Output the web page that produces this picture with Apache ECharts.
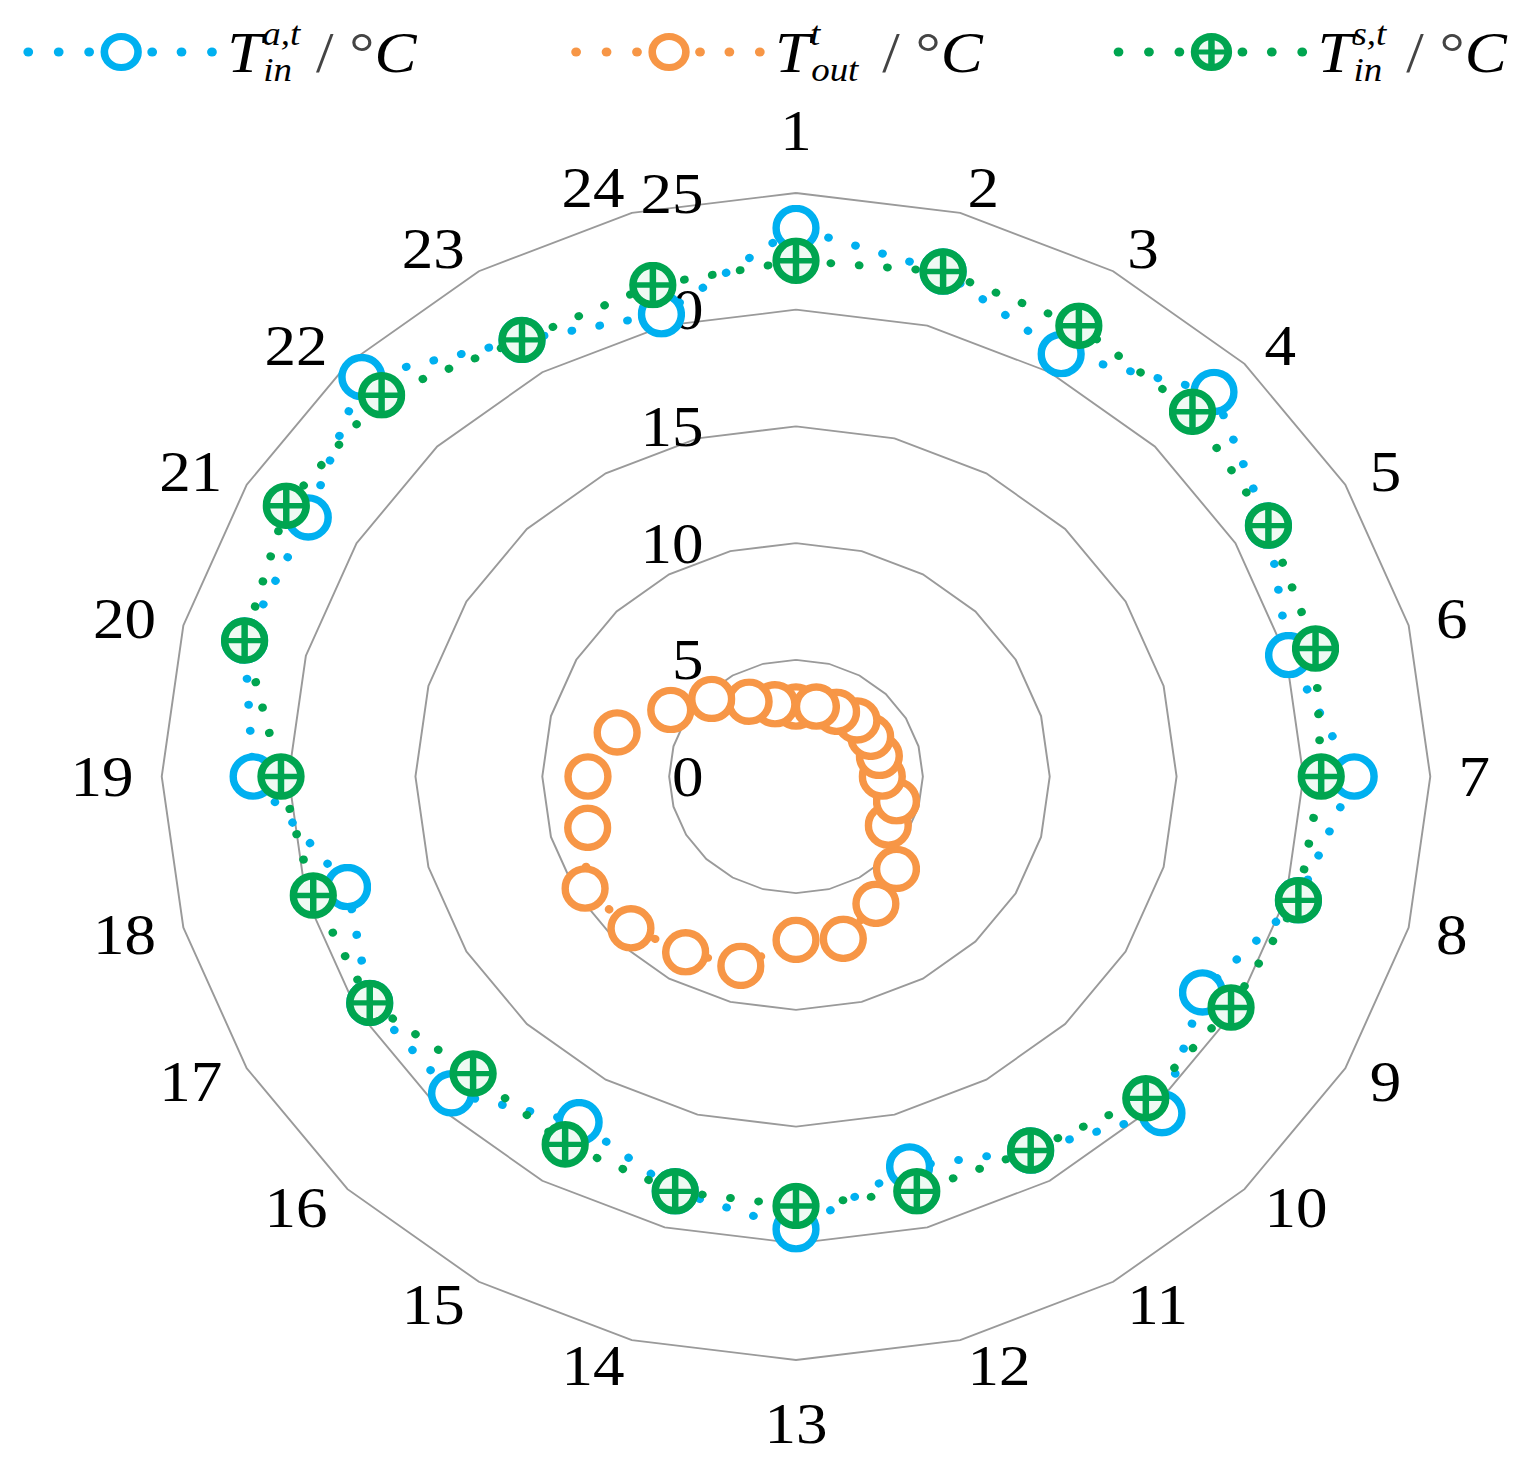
<!DOCTYPE html>
<html lang="en">

<head>
  <meta charset="UTF-8">
  <title>Radar</title>
  <style>
    html, body { margin: 0; padding: 0; background: #fff; }
    /* the reference is stretched horizontally, so the chart is drawn narrow and widened */
    #main { width: 1392px; height: 1472px; transform: scaleX(1.087); transform-origin: 0 0; }
  </style>
</head>

<body>
  <div id="main"></div>

  <script src="https://cdn.jsdelivr.net/npm/echarts@6/dist/echarts.min.js"></script>

  <script>
    // ====== data ======
    var hours = ['1', '2', '3', '4', '5', '6', '7', '8', '9', '10', '11', '12',
      '13', '14', '15', '16', '17', '18', '19', '20', '21', '22', '23', '24'];
    var radialTicks = [0, 5, 10, 15, 20, 25];

    var tInA = [23.5, 22.4, 20.9, 23.3, 21.5, 20.1, 22.0, 20.5, 18.5, 20.4, 18.5, 17.3,
      19.4, 18.4, 17.1, 19.2, 19.4, 18.3, 21.4, 22.5, 22.2, 24.2, 21.6, 20.5];
    var tOut = [3.0, 3.1, 3.2, 3.4, 3.4, 3.4, 3.4, 4.1, 4.2, 5.6, 6.3, 7.2,
      7.0, 8.4, 8.7, 9.2, 9.6, 8.5, 8.2, 7.3, 5.7, 4.7, 3.7, 3.2];
    var tInS = [22.1, 22.4, 22.3, 22.1, 21.5, 21.2, 20.7, 20.5, 19.8, 19.5, 18.5, 18.4,
      18.4, 18.4, 18.2, 18.0, 19.4, 19.7, 20.3, 22.5, 23.2, 23.1, 21.6, 21.8];

    var seriesNames = ['T_in^a,t / °C', 'T_out^t / °C', 'T_in^s,t / °C'];
    var legendSup = ['a,t', 't', 's,t'];
    var legendSub = ['in', 'out', 'in'];

    var colors = ['#00B0F0', '#F79646', '#00A550'];
    var serif = 'Liberation Serif';

    // echarts radar runs counter-clockwise: keep hour 1 on top and walk the rest backwards
    var order = [0];
    for (var k = hours.length - 1; k > 0; k--) order.push(k);
    function clockwise(arr) {
      return order.map(function (i) { return arr[i]; });
    }

    function svgUri(svg) {
      return 'image://data:image/svg+xml;charset=utf-8,' + encodeURIComponent(svg);
    }

    function markerSvg(kind, color, cx, cy, r, sw) {
      if (kind === 'cross') {
        return "<circle cx='" + cx + "' cy='" + cy + "' r='" + r + "' fill='#effaf3' stroke='" + color + "' stroke-width='" + sw + "'/>" +
          "<path d='M" + cx + " " + (cy - r) + "V" + (cy + r) + "' stroke='" + color + "' stroke-width='" + (sw - 1) + "'/>" +
          "<path d='M" + (cx - r) + " " + cy + "H" + (cx + r) + "' stroke='" + color + "' stroke-width='" + (sw - 2) + "'/>";
      }
      return "<circle cx='" + cx + "' cy='" + cy + "' r='" + r + "' fill='#fff' stroke='" + color + "' stroke-width='" + sw + "'/>";
    }

    function legendIcon(kind, color) {
      var dots = [9, 37, 65, 123, 150, 178].map(function (x) {
        return "<circle cx='" + x + "' cy='22.5' r='4.5' fill='" + color + "'/>";
      }).join('');
      return svgUri("<svg xmlns='http://www.w3.org/2000/svg' width='187' height='45' viewBox='0 0 187 45'>" +
        dots + markerSvg(kind, color, 94.5, 22.5, 15.5, 7) + '</svg>');
    }

    function pointMarker(kind, color) {
      return svgUri("<svg xmlns='http://www.w3.org/2000/svg' width='48' height='48' viewBox='0 0 48 48'>" +
        markerSvg(kind, color, 24, 24, 20, 7.5) + '</svg>');
    }

    var kinds = ['ring', 'ring', 'cross'];
    var legendLefts = [12, 516, 1015];

    var legendRich = {
      T: { fontFamily: serif, fontStyle: 'italic', fontSize: 58, lineHeight: 70, color: '#000' },
      sup: { fontFamily: serif, fontStyle: 'italic', fontSize: 34, lineHeight: 40, verticalAlign: 'top', color: '#000', width: 1 },
      sub: { fontFamily: serif, fontStyle: 'italic', fontSize: 34, lineHeight: 40, verticalAlign: 'bottom', color: '#000', padding: [0, 22, 0, 0] },
      n: { fontFamily: serif, fontSize: 58, lineHeight: 70, color: '#444' },
      C: { fontFamily: serif, fontStyle: 'italic', fontSize: 58, lineHeight: 70, color: '#000' }
    };

    window.onload = function () {
      var myChart = echarts.init(document.getElementById('main'), null, { renderer: 'svg' });

      var dotted = function (color) {
        return { color: color, width: 8, type: [0.1, 26], cap: 'round' };
      };

      var option = {
        backgroundColor: '#fff',
        animation: false,
        legend: legendLefts.map(function (left, i) {
          return {
            left: left,
            top: 12,
            itemWidth: 187,
            itemHeight: 45,
            selectedMode: false,
            data: [{ name: seriesNames[i], icon: legendIcon(kinds[i], colors[i]) }],
            formatter: function () {
              return '{T|T}{sup|' + legendSup[i] + '}{sub|' + legendSub[i] + '}{n|/ °}{C|C}';
            },
            textStyle: { rich: legendRich }
          };
        }),
        radar: {
          center: [732.3, 776.5],
          radius: 583.5,
          startAngle: 90,
          shape: 'polygon',
          splitNumber: radialTicks.length - 1,
          nameGap: 26,
          axisName: { color: '#000', fontSize: 58, lineHeight: 74, fontFamily: serif },
          indicator: clockwise(hours).map(function (h, i) {
            var ind = { name: h, min: radialTicks[0], max: radialTicks[radialTicks.length - 1] };
            if (i === 0) {
              // value labels only along the first spoke
              ind.axisLabel = {
                show: true, margin: 85, color: '#000', fontSize: 58, fontFamily: serif,
                showMinLabel: true, showMaxLabel: true
              };
            }
            return ind;
          }),
          axisLine: { show: false },
          axisTick: { show: false },
          axisLabel: { show: false },
          splitArea: { show: false },
          splitLine: { lineStyle: { color: '#9a9a9a', width: 1.8 } }
        },
        series: [
          {
            type: 'radar',
            silent: true,
            z: 3,
            data: [
              {
                name: seriesNames[0], value: clockwise(tInA),
                symbol: pointMarker('ring', colors[0]), symbolSize: [44, 47],
                itemStyle: { color: colors[0] },
                lineStyle: dotted(colors[0])
              },
              {
                name: seriesNames[1], value: clockwise(tOut),
                symbol: pointMarker('ring', colors[1]), symbolSize: [44, 47],
                itemStyle: { color: colors[1] },
                lineStyle: dotted(colors[1])
              },
              {
                name: seriesNames[2], value: clockwise(tInS),
                symbol: pointMarker('cross', colors[2]), symbolSize: [44, 47],
                itemStyle: { color: colors[2] },
                lineStyle: dotted(colors[2])
              }
            ]
          }
        ]
      };

      myChart.setOption(option);
    };
  </script>
</body>

</html>
